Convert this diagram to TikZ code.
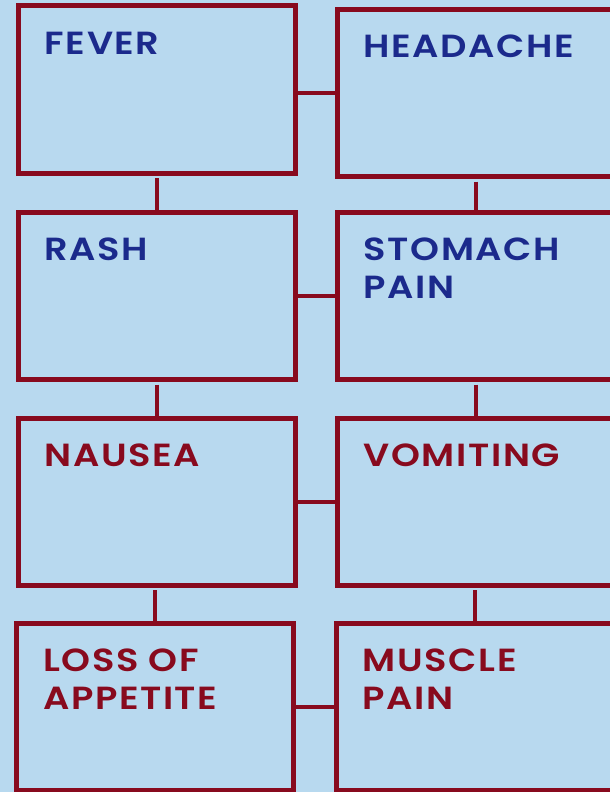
\documentclass[tikz,border=0pt]{standalone}
\usepackage{fontspec}
\setmainfont{Poppins}[BoldFont={Poppins SemiBold}, FakeStretch=1.15, LetterSpace=5]
\usetikzlibrary{positioning}
\definecolor{sSky}{HTML}{B8D9EF}
\definecolor{sCrimson}{HTML}{880A1E}
\definecolor{sNavy}{HTML}{1B2A8C}

\begin{document}
\begin{tikzpicture}[x=0.75pt, y=-0.75pt,
    symbox/.style={draw=sCrimson, line width=3.75pt, minimum width=207.75pt, minimum height=125.25pt},
    symtxt/.style={anchor=north west, inner sep=0pt, align=left, font=\fontsize{24}{28.5}\selectfont\bfseries},
    link/.style={draw=sCrimson, line width=3pt}]
  \fill[sSky] (0,0) rectangle (610,792);
  \useasboundingbox (0,0) rectangle (610,792);
  % boxes
  \node[symbox] (fever) at (156.5,89.5) {};
  \node[symbox] (headache) at (476,93) {};
  \node[symbox] (rash) at (156.5,296) {};
  \node[symbox] (stomach) at (476,296) {};
  \node[symbox] (nausea) at (156.5,501.5) {};
  \node[symbox] (vomiting) at (476,501.5) {};
  \node[symbox] (appetite) at (155,706.5) {};
  \node[symbox] (muscle) at (475,706.5) {};
  % labels
  \node[symtxt, text=sNavy] (feverT) at ([shift={(29,28)}]fever.north west) {FEVER};
  \node[symtxt, text=sNavy] (headacheT) at ([shift={(28.5,28)}]headache.north west) {HEADACHE};
  \node[symtxt, text=sNavy] (rashT) at ([shift={(29,28)}]rash.north west) {RASH};
  \node[symtxt, text=sNavy] (stomachT) at ([shift={(28.5,28)}]stomach.north west) {STOMACH\\PAIN};
  \node[symtxt, text=sCrimson] (nauseaT) at ([shift={(29,28)}]nausea.north west) {NAUSEA};
  \node[symtxt, text=sCrimson] (vomitingT) at ([shift={(28.5,28)}]vomiting.north west) {VOMITING};
  \node[symtxt, text=sCrimson] (appetiteT) at ([shift={(29,28)}]appetite.north west) {LOSS OF\\APPETITE};
  \node[symtxt, text=sCrimson] (muscleT) at ([shift={(28.5,28)}]muscle.north west) {MUSCLE\\PAIN};
  % connectors
  \draw[link] (fever.east |- headache.west) -- (headache.west);
  \draw[link] (rash.east |- stomach.west) -- (stomach.west);
  \draw[link] (nausea.east |- vomiting.west) -- (vomiting.west);
  \draw[link] (appetite.east |- muscle.west) -- (muscle.west);
  \draw[link, shorten <=2pt] (fever.south) -- (rash.north);
  \draw[link, shorten <=2pt] (rash.south) -- (nausea.north);
  \draw[link, shorten <=2pt] (appetite.north |- nausea.south) -- (appetite.north);
  \draw[link, shorten <=2pt] (headache.south) -- (stomach.north);
  \draw[link, shorten <=2pt] (stomach.south) -- (vomiting.north);
  \draw[link, shorten <=2pt] (muscle.north |- vomiting.south) -- (muscle.north);
\end{tikzpicture}
\end{document}
